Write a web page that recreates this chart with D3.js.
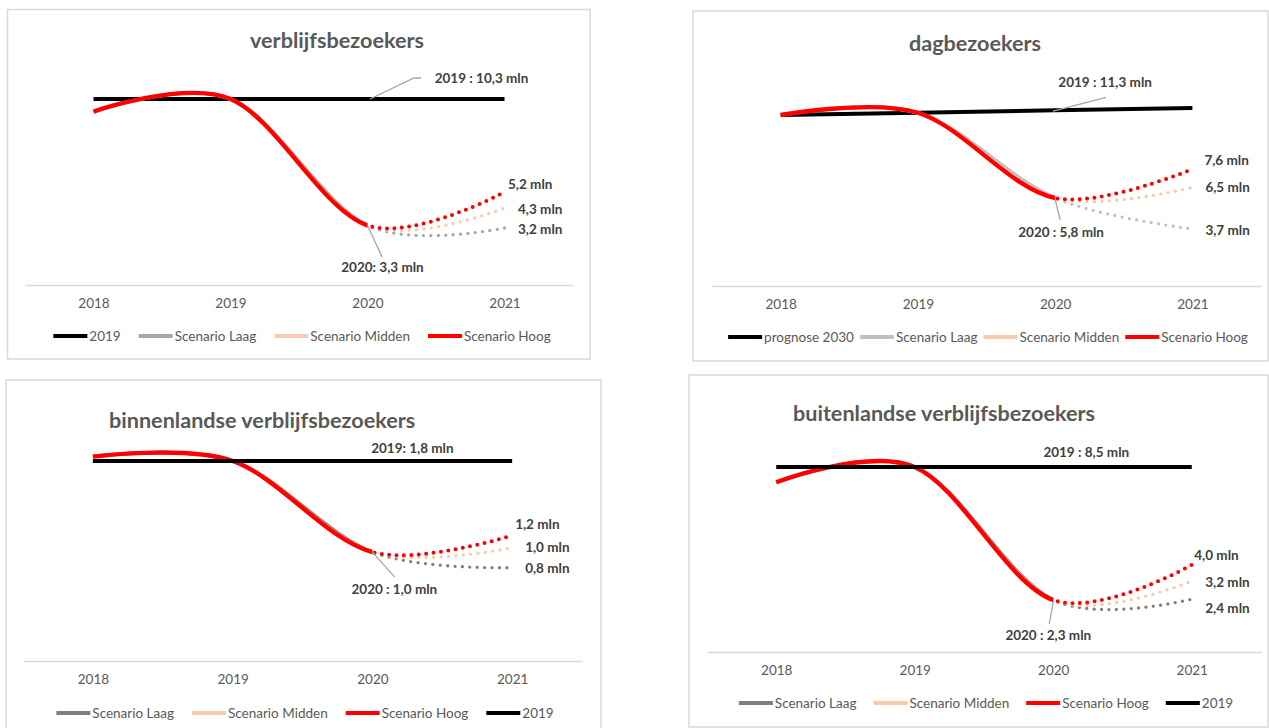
<!DOCTYPE html>
<html>
<head>
<meta charset="utf-8">
<script src="https://cdn.jsdelivr.net/npm/d3@7"></script>
<style>
  body { margin: 0; background: #fff; }
  svg { display: block; font-family: Lato, "Open Sans", sans-serif; }
</style>
</head>
<body>
<div id="chart"></div>
<script>
// Categories
const years = ["2018", "2019", "2020", "2021"];

// verblijfsbezoekers (mln)
const verblijfRef    = [10.3, 10.3, 10.3, 10.3];
const verblijfLaag   = [9.6, 10.3, 3.3, 3.16];
const verblijfMidden = [9.6, 10.3, 3.3, 4.26];
const verblijfHoog   = [9.6, 10.3, 3.3, 5.15];

// dagbezoekers (mln)
const dagRef    = [11.27, 11.42, 11.58, 11.73];
const dagLaag   = [11.27, 11.42, 5.8, 3.76];
const dagMidden = [11.27, 11.42, 5.8, 6.5];
const dagHoog   = [11.27, 11.42, 5.8, 7.71];

// binnenlandse verblijfsbezoekers (mln)
const binnenRef    = [1.8, 1.8, 1.8, 1.8];
const binnenLaag   = [1.84, 1.8, 0.98, 0.84];
const binnenMidden = [1.84, 1.8, 0.98, 1.02];
const binnenHoog   = [1.84, 1.8, 0.98, 1.13];

// buitenlandse verblijfsbezoekers (mln)
const buitenRef    = [8.5, 8.5, 8.5, 8.5];
const buitenLaag   = [7.8, 8.5, 2.39, 2.43];
const buitenMidden = [7.8, 8.5, 2.39, 3.26];
const buitenHoog   = [7.8, 8.5, 2.39, 4.0];

// Texts
const titles = ["verblijfsbezoekers", "dagbezoekers", "binnenlandse verblijfsbezoekers", "buitenlandse verblijfsbezoekers"];
const refNames = ["2019", "prognose 2030", "2019", "2019"];
const refLabels = ["2019 : 10,3 mln", "2019 : 11,3 mln", "2019: 1,8 mln", "2019 : 8,5 mln"];
const pointLabels = ["2020: 3,3 mln", "2020 : 5,8 mln", "2020 : 1,0 mln", "2020 : 2,3 mln"];
const endLabels = [
    { laag: "3,2 mln", midden: "4,3 mln", hoog: "5,2 mln" },
    { laag: "3,7 mln", midden: "6,5 mln", hoog: "7,6 mln" },
    { laag: "0,8 mln", midden: "1,0 mln", hoog: "1,2 mln" },
    { laag: "2,4 mln", midden: "3,2 mln", hoog: "4,0 mln" }
];

const COL = {
    ref: '#000000',
    midden: '#f8cbad',
    hoog: '#ff0000',
    text: '#595959',
    label: '#404040',
    grid: '#d9d9d9',
    leader: '#a6a6a6'
};

function makeSeries(ref, laag, midden, hoog, refName, laagColor, refFirst) {
    const r = { key: 'ref', name: refName, values: ref, color: COL.ref, width: 4, split: false };
    const s = [
        { key: 'laag', name: 'Scenario Laag', values: laag, color: laagColor, width: 3.6, dot: 3.3, split: true },
        { key: 'midden', name: 'Scenario Midden', values: midden, color: COL.midden, width: 3.6, dot: 3.4, split: true },
        { key: 'hoog', name: 'Scenario Hoog', values: hoog, color: COL.hoog, width: 4.4, dot: 4, split: true }
    ];
    return refFirst ? [r, ...s] : [...s, r];
}

const panels = [
    {
        series: makeSeries(verblijfRef, verblijfLaag, verblijfMidden, verblijfHoog, refNames[0], '#a6a6a6', true),
        box: [7.5, 9.5, 590, 359], xRange: [25, 573], axisY: 285, yMax: 12, plotH: 216.7,
        title: { x: 337, y: 40, anchor: 'middle' },
        legend: { cx: 302, y: 336, gap: 18 },
        refLabel: { dx: 114, dy: -21, leader: [[2.5, 0], [46.5, -21], [53.5, -21]] },
        pointLabel: { dx: 15, dy: 42, leader: [[0, 0], [14.5, 31.5]] },
        ends: { hoog: [3.5, -8], midden: [13.5, 1.5], laag: [13.5, 1] }
    },
    {
        series: makeSeries(dagRef, dagLaag, dagMidden, dagHoog, refNames[1], '#bfbfbf', true),
        box: [693, 11, 1268, 361], xRange: [712, 1261], axisY: 286, yMax: 14, plotH: 212.4,
        title: { x: 975, y: 43, anchor: 'middle' },
        legend: { cx: 988, y: 337, gap: 6 },
        refLabel: { dx: 50, dy: -28, leader: [[-2, 0.7], [51, -13]] },
        pointLabel: { dx: 6, dy: 34, leader: [[0, 1], [5, 22]] },
        ends: { hoog: [12, -9], midden: [13, 0], laag: [13, 1] }
    },
    {
        series: makeSeries(binnenRef, binnenLaag, binnenMidden, binnenHoog, refNames[2], '#7f7f7f', false),
        box: [6, 380, 601, 740], xRange: [23, 582], axisY: 661, yMax: 2, plotH: 222.2,
        title: { x: 109, y: 420, anchor: 'start' },
        legend: { cx: 305, y: 713, gap: 18 },
        refLabel: { dx: 40, dy: -13, leader: null },
        pointLabel: { dx: 22, dy: 37, leader: [[0, 0], [22.5, 25]] },
        ends: { hoog: [3, -11.5], midden: [13, 0], laag: [13, 1] }
    },
    {
        series: makeSeries(buitenRef, buitenLaag, buitenMidden, buitenHoog, refNames[3], '#7f7f7f', false),
        box: [689, 375, 1268, 727], xRange: [707, 1261], axisY: 652, yMax: 10, plotH: 217.6,
        title: { x: 793, y: 413, anchor: 'start' },
        legend: { cx: 986, y: 703, gap: 17 },
        refLabel: { dx: 33, dy: -15, leader: null },
        pointLabel: { dx: -5, dy: 35, leader: [[0, 2], [-4, 24]] },
        ends: { hoog: [2.5, -10], midden: [13.5, 1], laag: [13.5, 9] }
    }
];

const svg = d3.select('#chart').append('svg')
    .attr('width', 1269)
    .attr('height', 728);
const defs = svg.append('defs');

panels.forEach((p, pi) => {
    const g = svg.append('g');
    const [bx0, by0, bx1, by1] = p.box;

    // Panel frame
    g.append('rect')
        .attr('x', bx0).attr('y', by0)
        .attr('width', bx1 - bx0).attr('height', by1 - by0)
        .attr('fill', '#fff')
        .attr('stroke', COL.grid)
        .attr('stroke-width', 1.5);

    const x = d3.scalePoint().domain(years).range(p.xRange).padding(0.5);
    const y = d3.scaleLinear().domain([0, p.yMax]).range([p.axisY, p.axisY - p.plotH]);
    const xSplit = x('2020');

    // Title
    g.append('text')
        .attr('x', p.title.x).attr('y', p.title.y)
        .attr('dy', '0.35em')
        .attr('text-anchor', p.title.anchor)
        .attr('fill', COL.text)
        .attr('font-size', '21.6px')
        .attr('font-weight', 'bold')
        .text(titles[pi]);

    // Category axis
    const ax = g.append('g')
        .attr('transform', `translate(0,${p.axisY})`)
        .call(d3.axisBottom(x).tickSize(0).tickSizeOuter(0).tickPadding(13))
        .attr('font-family', null)
        .attr('font-size', null);
    ax.select('.domain').attr('stroke', COL.grid).attr('stroke-width', 1.5);
    ax.selectAll('text').attr('fill', COL.text).style('font-size', '13.5px');

    // Clip regions: solid up to 2020, dotted after
    defs.append('clipPath').attr('id', `solid${pi}`)
        .append('rect')
        .attr('x', bx0).attr('y', by0)
        .attr('width', xSplit - bx0).attr('height', by1 - by0);
    defs.append('clipPath').attr('id', `dots${pi}`)
        .append('rect')
        .attr('x', xSplit).attr('y', by0)
        .attr('width', bx1 - xSplit).attr('height', by1 - by0);

    const smooth = d3.line()
        .x((d, i) => x(years[i]))
        .y(d => y(d))
        .curve(d3.curveCardinal.tension(0));
    const straight = d3.line()
        .x((d, i) => x(years[i]))
        .y(d => y(d));

    p.series.forEach(s => {
        if (!s.split) {
            g.append('path')
                .attr('d', straight(s.values))
                .attr('fill', 'none')
                .attr('stroke', s.color)
                .attr('stroke-width', s.width);
            return;
        }
        g.append('path')
            .attr('d', smooth(s.values))
            .attr('clip-path', `url(#solid${pi})`)
            .attr('fill', 'none')
            .attr('stroke', s.color)
            .attr('stroke-width', s.width);
        g.append('path')
            .attr('d', smooth(s.values))
            .attr('clip-path', `url(#dots${pi})`)
            .attr('fill', 'none')
            .attr('stroke', s.color)
            .attr('stroke-width', s.dot)
            .attr('stroke-linecap', 'round')
            .attr('stroke-dasharray', '0 7.4');
    });

    const refS = p.series.find(s => s.key === 'ref');
    const hoogS = p.series.find(s => s.key === 'hoog');
    const leaderLine = d3.line();

    // Reference label
    const rx = xSplit, ry = y(refS.values[2]);
    if (p.refLabel.leader) {
        g.append('path')
            .attr('d', leaderLine(p.refLabel.leader.map(([dx, dy]) => [rx + dx, ry + dy])))
            .attr('fill', 'none')
            .attr('stroke', COL.leader)
            .attr('stroke-width', 1.3);
    }
    g.append('text')
        .attr('x', rx + p.refLabel.dx).attr('y', ry + p.refLabel.dy)
        .attr('dy', '0.35em')
        .attr('text-anchor', 'middle')
        .attr('fill', COL.label)
        .attr('font-size', '13.5px')
        .attr('font-weight', 'bold')
        .text(refLabels[pi]);

    // 2020 label
    const px = xSplit, py = y(hoogS.values[2]);
    g.append('path')
        .attr('d', leaderLine(p.pointLabel.leader.map(([dx, dy]) => [px + dx, py + dy])))
        .attr('fill', 'none')
        .attr('stroke', COL.leader)
        .attr('stroke-width', 1.3);
    g.append('text')
        .attr('x', px + p.pointLabel.dx).attr('y', py + p.pointLabel.dy)
        .attr('dy', '0.35em')
        .attr('text-anchor', 'middle')
        .attr('fill', COL.label)
        .attr('font-size', '13.5px')
        .attr('font-weight', 'bold')
        .text(pointLabels[pi]);

    // End-of-line labels
    ['laag', 'midden', 'hoog'].forEach(k => {
        const s = p.series.find(d => d.key === k);
        const [dx, dy] = p.ends[k];
        g.append('text')
            .attr('x', x('2021') + dx)
            .attr('y', y(s.values[3]) + dy)
            .attr('dy', '0.35em')
            .attr('fill', COL.label)
            .attr('font-size', '13.5px')
            .attr('font-weight', 'bold')
            .text(endLabels[pi][k]);
    });

    // Legend
    const leg = g.append('g');
    let cx = 0;
    p.series.forEach(s => {
        const it = leg.append('g').attr('transform', `translate(${cx},0)`);
        it.append('line')
            .attr('x1', 0).attr('x2', 34)
            .attr('stroke', s.color)
            .attr('stroke-width', 4);
        const t = it.append('text')
            .attr('x', 36)
            .attr('dy', '0.35em')
            .attr('fill', COL.text)
            .attr('font-size', '13.5px')
            .text(s.name);
        cx += 36 + t.node().getComputedTextLength() + p.legend.gap;
    });
    const total = cx - p.legend.gap;
    leg.attr('transform', `translate(${p.legend.cx - total / 2},${p.legend.y})`);
});
</script>
</body>
</html>
